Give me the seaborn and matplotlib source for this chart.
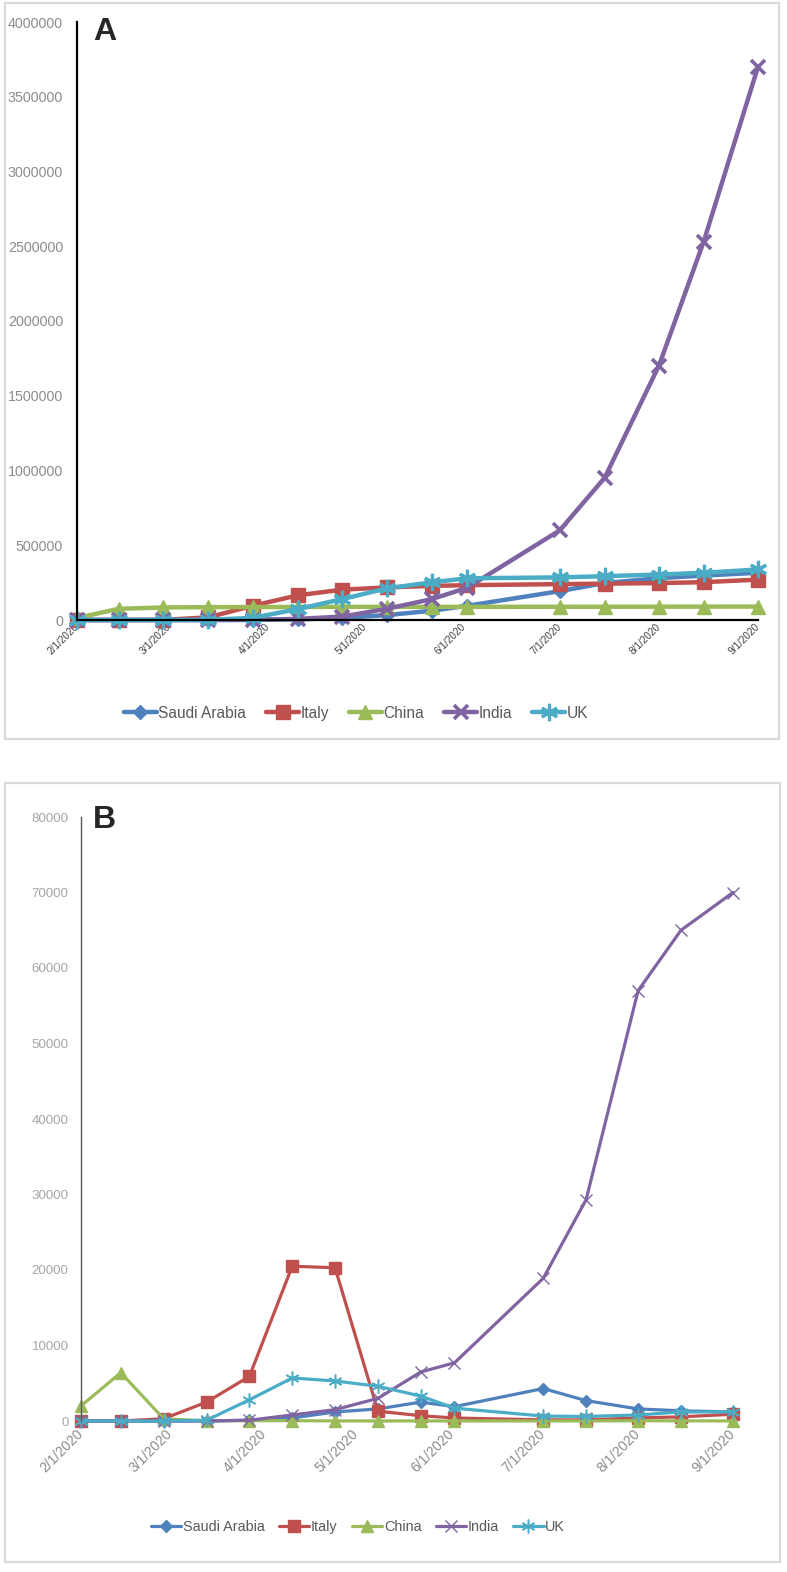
# ==========================================================
# COVID-19 CASES: SAUDI ARABIA, ITALY, CHINA, INDIA, UK
# ==========================================================

import pandas as pd
import matplotlib
matplotlib.use("Agg")
import matplotlib.pyplot as plt
import matplotlib.dates as mdates
from matplotlib.patches import Rectangle
from matplotlib.ticker import MultipleLocator, StrMethodFormatter
import seaborn as sns

# -----------------------------
# DATA
# -----------------------------

dates = pd.to_datetime([
    "2020-02-01", "2020-02-14", "2020-02-28", "2020-03-13", "2020-03-27",
    "2020-04-10", "2020-04-24", "2020-05-08", "2020-05-22", "2020-06-02",
    "2020-07-01", "2020-07-15", "2020-08-01", "2020-08-15", "2020-09-01",
])

countries = ["Saudi Arabia", "Italy", "China", "India", "UK"]

# panel A (total cases)
saudi_total = [0, 0, 0, 80, 1100, 3700, 14000, 33000, 62000, 95000,
               193000, 247000, 280000, 297000, 316000]
italy_total = [2, 3, 900, 17700, 95000, 165000, 203000, 218000, 228000, 233000,
               240000, 243000, 247000, 253000, 270000]
china_total = [13000, 75000, 84000, 86000, 86500, 87000, 88000, 88000, 88000, 88000,
               88500, 88600, 89000, 89500, 90000]
india_total = [1, 3, 3, 80, 900, 7600, 23000, 75000, 140000, 215000,
               600000, 950000, 1700000, 2530000, 3700000]
uk_total = [2, 9, 20, 800, 14500, 73000, 140000, 212000, 252000, 279000,
            285000, 293000, 304000, 316000, 338000]

# panel B
saudi_new = [0, 0, 0, 10, 100, 400, 1200, 1600, 2500, 1900,
             4300, 2700, 1600, 1350, 1200]
italy_new = [0, 0, 300, 2500, 5900, 20500, 20300, 1300, 700, 400,
             150, 150, 400, 550, 900]
china_new = [2000, 6400, 300, 20, 50, 40, 10, 5, 10, 5,
             5, 10, 30, 20, 10]
india_new = [0, 0, 0, 10, 100, 800, 1500, 3000, 6500, 7700,
             18900, 29300, 57000, 65000, 70000]
uk_new = [0, 0, 0, 100, 2800, 5700, 5300, 4600, 3300, 1700,
          650, 600, 800, 1200, 1200]

colors = ["#4F81BD", "#C0504D", "#9BBB59", "#8064A2", "#4BACC6"]
markers = ["D", "s", "^", "x", (6, 2, 0)]

# -----------------------------
# STYLE
# -----------------------------

sns.set_style("white")
plt.rcParams["font.family"] = ["Liberation Sans", "DejaVu Sans"]

W, H = 787, 1572
fig = plt.figure(figsize=(W / 100, H / 100), dpi=100)


def fx(px):
    return px / W


def fy(py):
    return 1 - py / H


# panel borders
for left, top, right, bottom in [(5, 3, 779, 739), (5, 783, 780, 1562)]:
    fig.patches.append(Rectangle((fx(left), fy(bottom)), fx(right - left), (bottom - top) / H,
                                 transform=fig.transFigure, fill=False,
                                 edgecolor="#d9d9d9", linewidth=1.6))


def draw_panel(ax, series, sizes, mews, lw):
    for name, vals, col, mk, ms, mew in zip(countries, series, colors, markers, sizes, mews):
        sns.lineplot(x=dates, y=vals, color=col, marker=mk, markersize=ms,
                     markeredgewidth=mew, markeredgecolor=None, linewidth=lw,
                     label=name, clip_on=False, ax=ax)
    ax.set_xlabel("")
    ax.set_ylabel("")
    ax.set_xlim(dates[0], dates[-1])
    ax.xaxis.set_major_locator(mdates.MonthLocator())
    ax.xaxis.set_major_formatter(mdates.DateFormatter("%-m/%-d/%Y"))
    ax.yaxis.set_major_formatter(StrMethodFormatter("{x:.0f}"))
    sns.despine(ax=ax)
    ax.tick_params(length=0)


# ----------------------------------------------------------
# PANEL A
# ----------------------------------------------------------

ax1 = fig.add_axes([fx(77), fy(620), fx(758 - 77), 598 / H])
draw_panel(ax1, [saudi_total, italy_total, china_total, india_total, uk_total],
           sizes=[7.5, 9.5, 10.5, 10.5, 12.5], mews=[1, 1, 1, 2.6, 2.3], lw=3.2)
ax1.set_ylim(0, 4000000)
ax1.yaxis.set_major_locator(MultipleLocator(500000))
ax1.spines["left"].set_color("black")
ax1.spines["left"].set_linewidth(1.6)
ax1.spines["bottom"].set_color("black")
ax1.spines["bottom"].set_linewidth(1.6)
ax1.tick_params(axis="y", labelsize=10.3, labelcolor="#8c8c8c", pad=10)
ax1.tick_params(axis="x", labelsize=7.2, labelcolor="#404040", pad=4)
for t in ax1.get_xticklabels():
    t.set_rotation(45)
    t.set_ha("right")
    t.set_va("center")
    t.set_rotation_mode("anchor")

h, l = ax1.get_legend_handles_labels()
ax1.legend(h, l, loc="center", bbox_to_anchor=(fx(356), fy(713)),
           bbox_transform=fig.transFigure, ncol=5, frameon=False, fontsize=11.2,
           handlelength=2.1, handletextpad=0.1, columnspacing=1.3,
           labelcolor="#595959")

fig.text(fx(93), fy(40), "A", fontsize=23, fontweight="bold", va="baseline")

# ----------------------------------------------------------
# PANEL B
# ----------------------------------------------------------

ax2 = fig.add_axes([fx(81), fy(1421), fx(733 - 81), 604 / H])
draw_panel(ax2, [saudi_new, italy_new, china_new, india_new, uk_new],
           sizes=[6, 8, 8, 9, 10], mews=[1, 1, 1, 1, 1.1], lw=2.3)
ax2.set_ylim(0, 80000)
ax2.yaxis.set_major_locator(MultipleLocator(10000))
ax2.spines["left"].set_color("#595959")
ax2.spines["left"].set_linewidth(1)
ax2.spines["bottom"].set_visible(False)
ax2.tick_params(axis="y", labelsize=9.6, labelcolor="#a6a6a6", pad=9)
ax2.tick_params(axis="x", labelsize=10, labelcolor="#8c8c8c", pad=8)
for t in ax2.get_xticklabels():
    t.set_rotation(45)
    t.set_ha("right")
    t.set_va("center")
    t.set_rotation_mode("anchor")

h, l = ax2.get_legend_handles_labels()
ax2.legend(h, l, loc="center", bbox_to_anchor=(fx(358), fy(1527)),
           bbox_transform=fig.transFigure, ncol=5, frameon=False, fontsize=10.4,
           handlelength=2.1, handletextpad=0.1, columnspacing=1.0,
           labelcolor="#595959")

fig.text(fx(93), fy(828), "B", fontsize=23, fontweight="bold", va="baseline")

plt.savefig("out.png", dpi=100)
